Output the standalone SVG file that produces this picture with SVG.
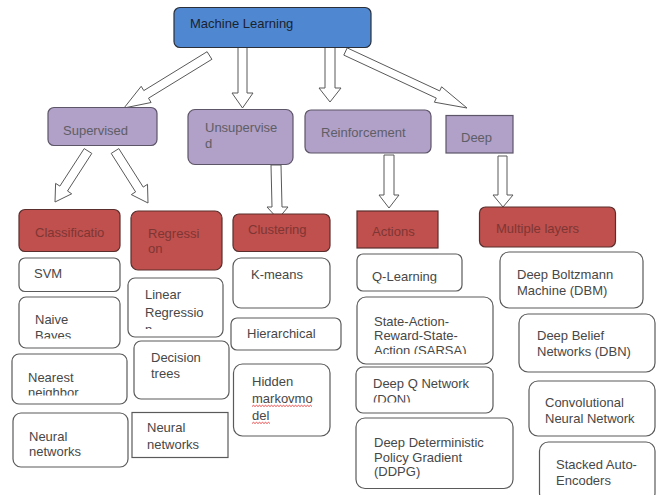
<svg xmlns="http://www.w3.org/2000/svg" width="659" height="495" viewBox="0 0 659 495">
<defs>
<style>
text{font-family:"Liberation Sans",Arial,sans-serif;font-size:13px}
.w rect{fill:#fff;stroke:#5a5a5a;stroke-width:1.2}
.w text{fill:#474747}
.p rect{fill:#b1a0c7;stroke:#5d5568;stroke-width:1.2}
.p text{fill:#5e5e66}
.r rect{fill:#c0504d;stroke:#5a2e2d;stroke-width:1.2}
.r text{fill:#7e3634}
.b rect{fill:#4f88d1;stroke:#2a2f38;stroke-width:1.2}
.b text{fill:#1a2230}
#connectors polygon{fill:#fff;stroke:#595959;stroke-width:1}
.sq{fill:none;stroke:#e02020;stroke-width:0.8}
</style>
<clipPath id="cNaive"><rect x="19" y="297" width="101" height="41.5"/></clipPath>
<clipPath id="cNear"><rect x="12" y="354" width="115" height="41.5"/></clipPath>
<clipPath id="cLin"><rect x="128" y="278" width="95" height="51"/></clipPath>
<clipPath id="cQ"><rect x="357" y="254" width="105" height="29.5"/></clipPath>
<clipPath id="cSarsa"><rect x="357" y="297" width="136" height="57"/></clipPath>
<clipPath id="cDqn"><rect x="356" y="367" width="137" height="35.5"/></clipPath>
</defs>
<rect width="659" height="495" fill="#fff"/>

<g id="connectors">
<polygon points="207.1,51.7 143.8,90.6 141.2,86.3 124,108 151.1,102.5 148.5,98.2 211.9,59.3"/>
<polygon points="238,47 238,93 232,93 242.5,108 253,93 247,93 247,47"/>
<polygon points="325,47 325,88 319,88 330,102 341,88 335,88 335,47"/>
<polygon points="343.8,55.1 436.3,98.1 434.4,102.2 467,108 441.6,86.8 439.7,90.9 347.2,47.9"/>
<polygon points="84.2,148.6 59.9,186.1 55.6,183.4 55,202 71.7,193.8 67.5,191 91.8,153.4"/>
<polygon points="111.2,153.4 135.6,191.9 131.3,194.6 148,203 147.5,184.3 143.2,187.1 118.8,148.6"/>
<polygon points="271,165 272,207 267,207 278,219 288,207 282,207 281,165"/>
<polygon points="384,155 384,195 379,195 389,208 399,195 394,195 394,155"/>
<polygon points="498,156 498,195 493,195 503,207 513,195 507,195 507,156"/>
</g>

<g id="ml" class="b"><rect x="174" y="7.5" width="197" height="40" rx="6"/><text x="190" y="28">Machine Learning</text></g>

<g id="supervised" class="p"><rect x="48" y="107.5" width="109" height="38" rx="6"/><text x="63" y="135">Supervised</text></g>
<g id="unsupervised" class="p"><rect x="188" y="109.5" width="105" height="55" rx="7"/><text x="205" y="131.5">Unsupervise</text><text x="205" y="147.5">d</text></g>
<g id="reinforcement" class="p"><rect x="305" y="110" width="126" height="43" rx="6"/><text x="321" y="137">Reinforcement</text></g>
<g id="deep" class="p"><rect x="446" y="115.5" width="67" height="37.5"/><text x="461" y="141.5">Deep</text></g>

<g id="classification" class="r"><rect x="19" y="209.5" width="101" height="42" rx="6"/><text x="35" y="237">Classificatio</text></g>
<g id="regression" class="r"><rect x="131" y="211" width="91" height="59" rx="7"/><text x="148" y="238">Regressi</text><text x="148" y="253">on</text></g>
<g id="clustering" class="r"><rect x="233" y="214" width="97" height="37.5" rx="6"/><text x="248" y="234">Clustering</text></g>
<g id="actions" class="r"><rect x="357" y="211" width="81" height="37"/><text x="372" y="236">Actions</text></g>
<g id="multiple" class="r"><rect x="479.5" y="207" width="136" height="40" rx="6"/><text x="496" y="233">Multiple layers</text></g>

<g id="svm" class="w"><rect x="19" y="258" width="101" height="33.5" rx="6"/><text x="34" y="278">SVM</text></g>
<g id="naive" class="w"><rect x="19" y="297" width="101" height="51" rx="7"/><g clip-path="url(#cNaive)"><text x="35" y="324">Naive</text><text x="35" y="340">Bayes</text></g></g>
<g id="nearest" class="w"><rect x="12" y="354" width="115" height="50" rx="7"/><g clip-path="url(#cNear)"><text x="28" y="382">Nearest</text><text x="28" y="397">neighbor</text></g></g>
<g id="neural1" class="w"><rect x="13" y="413" width="115" height="54" rx="8"/><text x="29" y="441">Neural</text><text x="29" y="456">networks</text></g>

<g id="linear" class="w"><rect x="128" y="278" width="95" height="59" rx="7"/><g clip-path="url(#cLin)"><text x="145" y="299">Linear</text><text x="145" y="317">Regressio</text><text x="145" y="334">n</text></g></g>
<g id="decision" class="w"><rect x="134" y="341" width="95" height="58" rx="7"/><text x="151" y="362">Decision</text><text x="151" y="378">trees</text></g>
<g id="neural2" class="w"><rect x="132" y="412.5" width="96" height="45"/><text x="147" y="432">Neural</text><text x="147" y="449">networks</text></g>

<g id="kmeans" class="w"><rect x="233" y="258" width="97" height="50" rx="8"/><text x="251" y="279">K-means</text></g>
<g id="hierarchical" class="w"><rect x="231" y="318" width="110" height="32" rx="6"/><text x="247" y="338">Hierarchical</text></g>
<g id="hidden" class="w"><rect x="233.5" y="364" width="96.5" height="72" rx="9"/><text x="252" y="386">Hidden</text><text x="252" y="403">markovmo</text><text x="252" y="420">del</text>
<path class="sq" d="M252,406.5 l1.5,-1.2 l1.5,1.2 l1.5,-1.2 l1.5,1.2 l1.5,-1.2 l1.5,1.2 l1.5,-1.2 l1.5,1.2 l1.5,-1.2 l1.5,1.2 l1.5,-1.2 l1.5,1.2 l1.5,-1.2 l1.5,1.2 l1.5,-1.2 l1.5,1.2 l1.5,-1.2 l1.5,1.2 l1.5,-1.2 l1.5,1.2 l1.5,-1.2 l1.5,1.2 l1.5,-1.2 l1.5,1.2 l1.5,-1.2 l1.5,1.2 l1.5,-1.2 l1.5,1.2 l1.5,-1.2 l1.5,1.2 l1.5,-1.2 l1.5,1.2 l1.5,-1.2 l1.5,1.2 l1.5,-1.2 l1.5,1.2 l1.5,-1.2 l1.5,1.2 l1.5,-1.2 l1.5,1.2"/>
<path class="sq" d="M252,423.5 l1.5,-1.2 l1.5,1.2 l1.5,-1.2 l1.5,1.2 l1.5,-1.2 l1.5,1.2 l1.5,-1.2 l1.5,1.2 l1.5,-1.2 l1.5,1.2 l1.5,-1.2 l1.5,1.2"/></g>

<g id="qlearning" class="w"><rect x="357" y="254" width="105" height="37" rx="6"/><g clip-path="url(#cQ)"><text x="372" y="281">Q-Learning</text></g></g>
<g id="sarsa" class="w"><rect x="357" y="297" width="136" height="67" rx="9"/><g clip-path="url(#cSarsa)"><text x="374" y="326">State-Action-</text><text x="374" y="340">Reward-State-</text><text x="374" y="355">Action (SARSA)</text></g></g>
<g id="dqn" class="w"><rect x="356" y="367" width="137" height="46" rx="7"/><g clip-path="url(#cDqn)"><text x="373" y="388">Deep Q Network</text><text x="373" y="404">(DQN)</text></g></g>
<g id="ddpg" class="w"><rect x="356" y="418" width="157" height="70.5" rx="9"/><text x="374" y="447">Deep Deterministic</text><text x="374" y="462">Policy Gradient</text><text x="374" y="476">(DDPG)</text></g>

<g id="dbm" class="w"><rect x="500" y="252" width="143" height="56" rx="9"/><text x="517" y="279">Deep Boltzmann</text><text x="517" y="295">Machine (DBM)</text></g>
<g id="dbn" class="w"><rect x="519" y="314" width="136" height="58" rx="9"/><text x="537" y="340">Deep Belief</text><text x="537" y="356">Networks (DBN)</text></g>
<g id="cnn" class="w"><rect x="529" y="381" width="126" height="55" rx="9"/><text x="545" y="407">Convolutional</text><text x="545" y="423">Neural Network</text></g>
<g id="stacked" class="w"><rect x="539.5" y="442" width="115.5" height="60" rx="9"/><text x="556" y="469">Stacked Auto-</text><text x="556" y="485">Encoders</text></g>
</svg>
